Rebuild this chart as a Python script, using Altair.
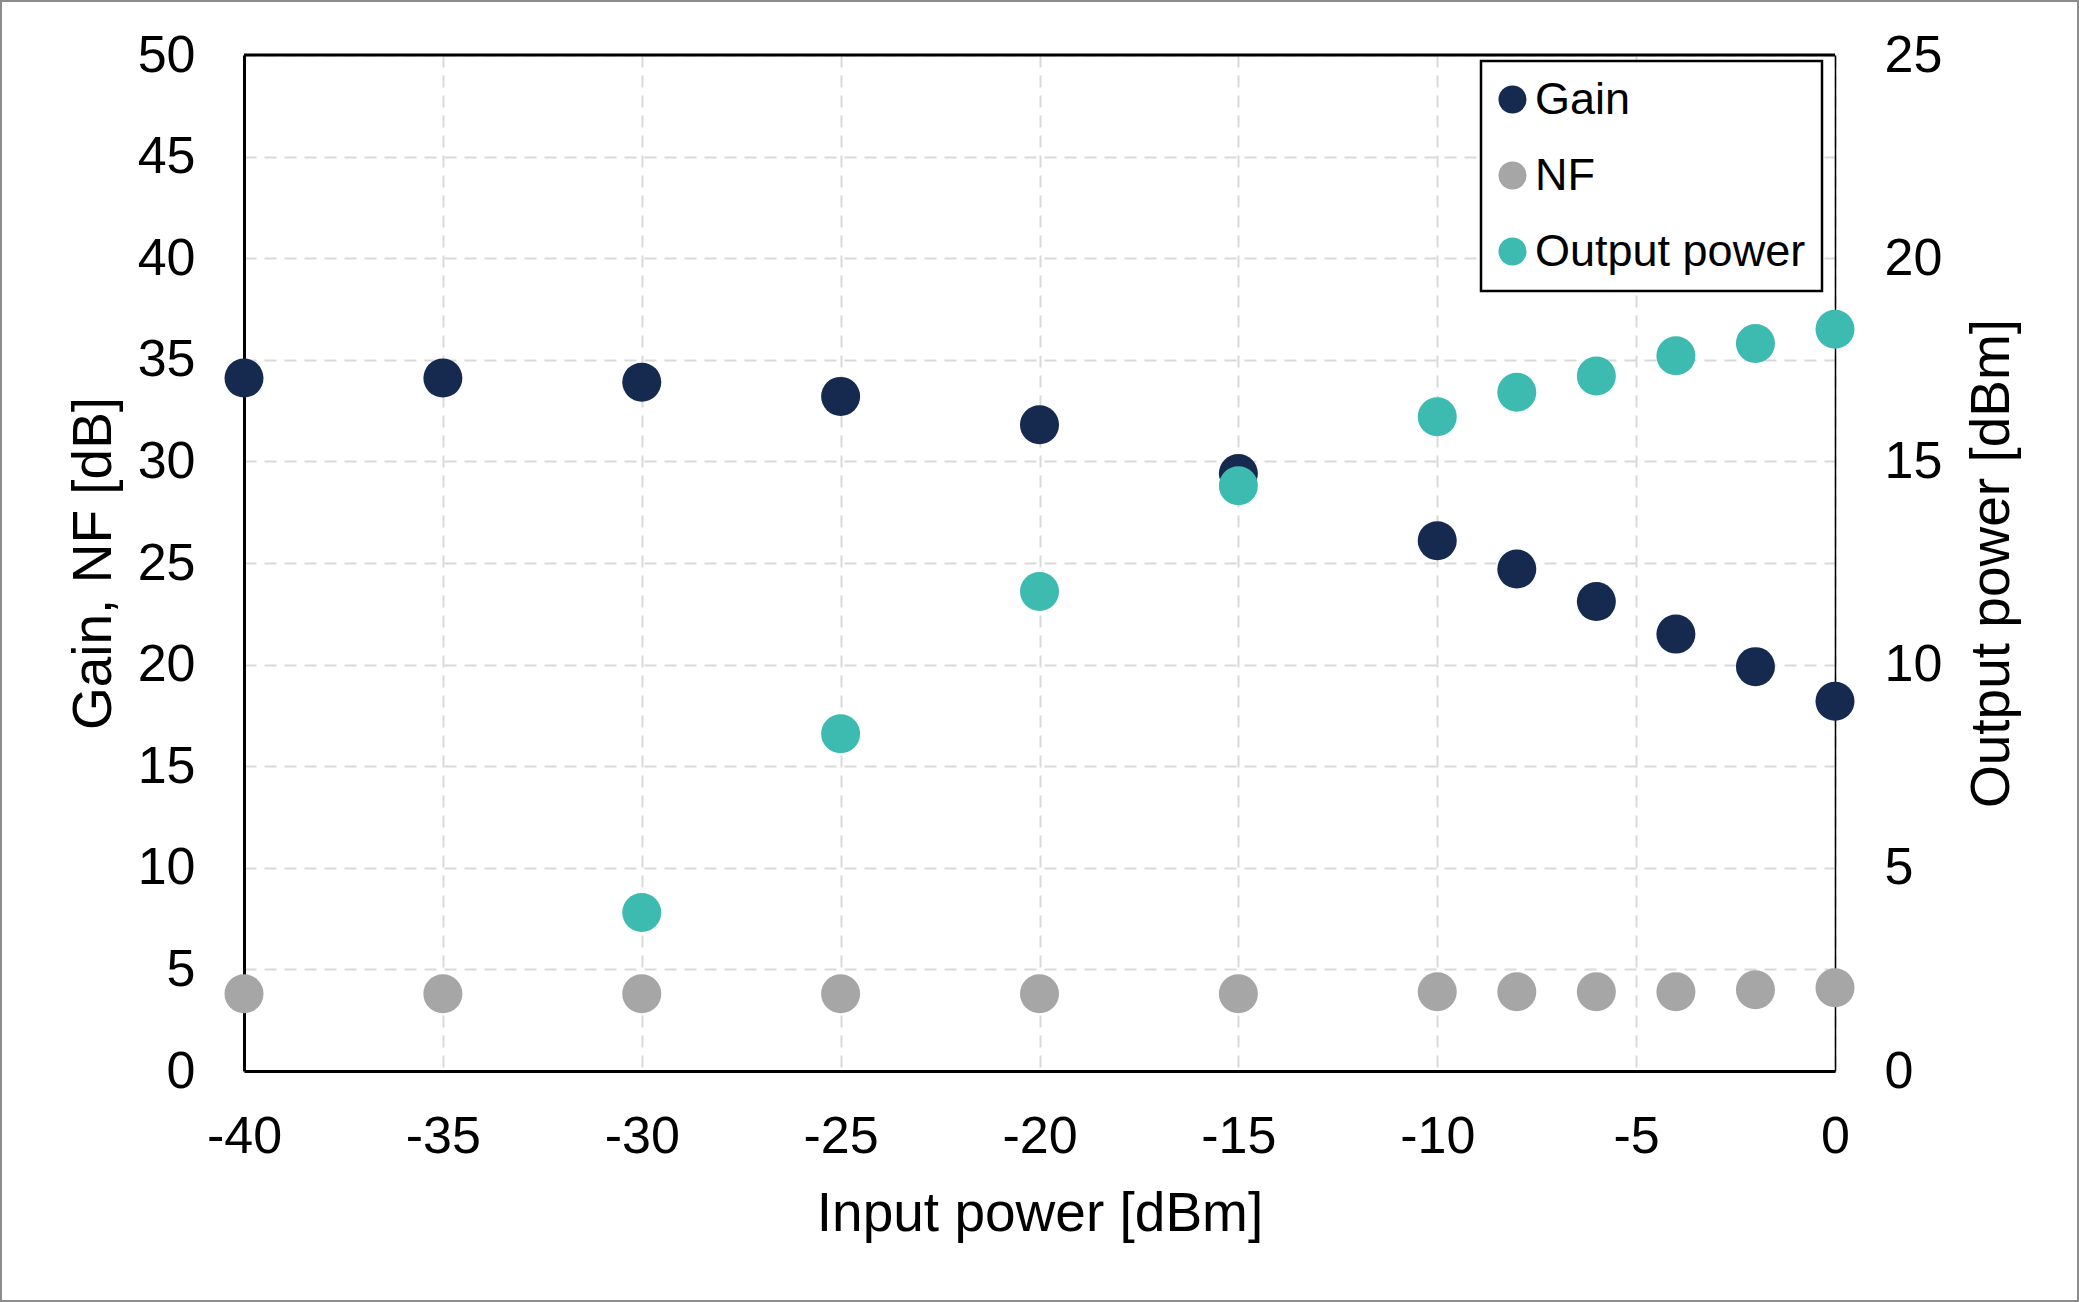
import altair as alt
import pandas as pd

# ---- data ----
input_power = [-40, -35, -30, -25, -20, -15, -10, -8, -6, -4, -2, 0]
gain_db = [34.1, 34.1, 33.9, 33.2, 31.8, 29.4, 26.1, 24.7, 23.1, 21.5, 19.9, 18.2]
nf_db = [3.8, 3.8, 3.8, 3.8, 3.8, 3.8, 3.9, 3.9, 3.9, 3.9, 4.0, 4.1]
out_input_power = [-30, -25, -20, -15, -10, -8, -6, -4, -2, 0]
output_power_dbm = [3.9, 8.3, 11.8, 14.4, 16.1, 16.7, 17.1, 17.6, 17.9, 18.25]

series_names = ["Gain", "NF", "Output power"]
series_colors = ["#16294F", "#A6A6A6", "#3DBBB0"]
x_ticks = list(range(-40, 1, 5))
left_ticks = list(range(0, 51, 5))
right_ticks = list(range(0, 26, 5))

left_df = pd.DataFrame(
    {"x": input_power * 2,
     "value": gain_db + nf_db,
     "series": ["Gain"] * len(gain_db) + ["NF"] * len(nf_db)}
)
right_df = pd.DataFrame(
    {"x": out_input_power, "value": output_power_dbm,
     "series": ["Output power"] * len(output_power_dbm)}
)

W, H = 1591, 1016
FONT = "Liberation Sans"
GRID_DASH = [12, 8]

color_scale = alt.Scale(domain=series_names, range=series_colors)
legend = alt.Legend(
    title=None, orient="none", legendX=1237, legendY=6,
    symbolType="circle", symbolSize=784, symbolStrokeWidth=0, symbolOffset=-7,
    labelFontSize=45, labelFont=FONT, labelColor="black", labelLimit=600,
    labelOffset=0, rowPadding=30, padding=16,
    strokeColor="black", fillColor="white",
)

x_enc = alt.X(
    "x:Q",
    scale=alt.Scale(domain=[-40, 0], nice=False),
    axis=alt.Axis(
        values=x_ticks, title="Input power [dBm]", labelExpr="'' + datum.value",
        labelFlush=False, labelOverlap=False, ticks=False,
        labelFontSize=52, titleFontSize=55, labelPadding=40, titlePadding=25,
        domainColor="black", domainWidth=3,
        grid=True, gridColor="#D9D9D9", gridWidth=2, gridDash=GRID_DASH,
    ),
)

left = alt.Chart(left_df).mark_circle(size=1521, opacity=1).encode(
    x=x_enc,
    y=alt.Y(
        "value:Q",
        scale=alt.Scale(domain=[0, 50], nice=False),
        axis=alt.Axis(
            orient="left", values=left_ticks, title="Gain, NF [dB]",
            labelFontSize=52, titleFontSize=55, labelPadding=49, titlePadding=15,
            ticks=False, domainColor="black", domainWidth=3,
            grid=True, gridColor="#D9D9D9", gridWidth=2, gridDash=GRID_DASH,
        ),
    ),
    color=alt.Color("series:N", scale=color_scale, legend=legend),
    order=alt.Order("series:N"),
)

right = alt.Chart(right_df).mark_circle(size=1521, opacity=1).encode(
    x=alt.X("x:Q", scale=alt.Scale(domain=[-40, 0], nice=False)),
    y=alt.Y(
        "value:Q",
        scale=alt.Scale(domain=[0, 25], nice=False),
        axis=alt.Axis(
            orient="right", values=right_ticks, title="Output power [dBm]",
            titleAngle=270, titleBaseline="top",
            labelFontSize=52, titleFontSize=55, labelPadding=49, titlePadding=24,
            ticks=False, domainColor="black", domainWidth=1.5, grid=False,
        ),
    ),
    color=alt.Color("series:N", scale=color_scale, legend=legend),
)

top_border = alt.Chart(pd.DataFrame({"a": [0]})).mark_rule(
    color="black", strokeWidth=3
).encode(x=alt.value(0), x2=alt.value(W), y=alt.value(0))

outer_frame = alt.Chart(pd.DataFrame({"a": [0]})).mark_rect(
    fill="transparent", stroke="#8C8C8C", strokeWidth=2
).encode(
    x=alt.value(-243), x2=alt.value(W + 243),
    y=alt.value(-54), y2=alt.value(H + 230),
)

chart = (
    alt.layer(outer_frame, left, right, top_border)
    .resolve_scale(y="independent")
    .properties(
        width=W, height=H,
        autosize=alt.AutoSizeParams(type="none"),
        padding={"left": 244, "top": 55, "right": 244, "bottom": 231},
        background="white",
    )
    .configure_view(stroke=None)
    .configure_axis(
        labelFont=FONT, titleFont=FONT, labelColor="black", titleColor="black",
        titleFontWeight="normal",
    )
    .configure_legend(strokeWidth=2.5)
)

chart.save("out.html", embed_options={"renderer": "svg", "actions": False})
